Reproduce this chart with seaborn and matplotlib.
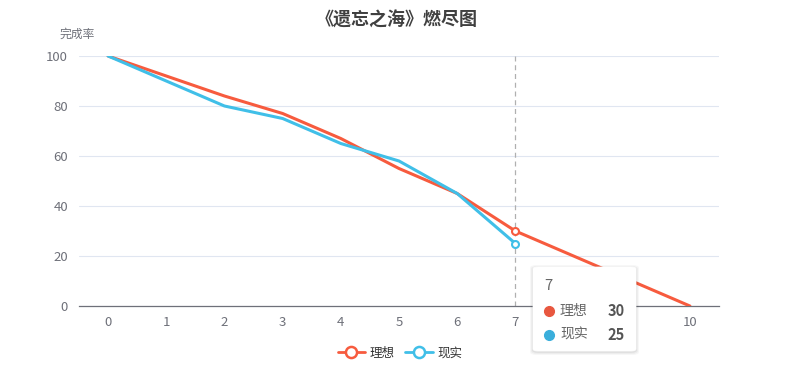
import matplotlib
matplotlib.use("Agg")
import matplotlib.pyplot as plt
import seaborn as sns
import pandas as pd
from matplotlib.lines import Line2D
from matplotlib.patches import FancyBboxPatch

days = list(range(11))
ideal = [100, 92, 84, 77, 67, 55, 45, 30, 20, 10, 0]
actual = [100, 90, 80, 75, 65, 58, 45, 25]
series_names = ["理想", "现实"]
title = "《遗忘之海》燃尽图"
y_name = "完成率"
y_ticks = [0, 20, 40, 60, 80, 100]
hover_day = 7

RED = "#f75b3e"
BLUE = "#40bfe8"

sns.set_theme(style="white")
plt.rcParams["font.family"] = ["Noto Sans CJK SC", "DejaVu Sans"]

W, H = 797, 367
fig = plt.figure(figsize=(W / 100, H / 100), dpi=100)
L, R, T, B = 79, 719, 56, 306
ax = fig.add_axes([L / W, 1 - B / H, (R - L) / W, (B - T) / H])

df = pd.concat([
    pd.DataFrame({"day": days, "value": ideal, "series": series_names[0]}),
    pd.DataFrame({"day": days[:len(actual)], "value": actual, "series": series_names[1]}),
])
sns.lineplot(data=df, x="day", y="value", hue="series", palette=[RED, BLUE],
             linewidth=2.2, ax=ax, legend=False, zorder=3)

# hover markers
ax.plot([hover_day], [ideal[hover_day]], "o", ms=5, mfc="white", mec=RED, mew=1.5, zorder=5)
ax.plot([hover_day], [actual[hover_day]], "o", ms=5, mfc="white", mec=BLUE, mew=1.5, zorder=5)
ax.axvline(hover_day, color="#b0b0b0", lw=0.9, ls=(0, (4, 3)), zorder=2)

ax.set_xlim(-0.5, 10.5)
ax.set_ylim(0, 100)
ax.set_yticks(y_ticks)
ax.set_xticks(days)
ax.set_xticks([d - 0.5 for d in days] + [10.5], minor=True)
ax.tick_params(axis="x", which="major", length=0, pad=7, labelsize=9.5, labelcolor="#6e7079")
ax.tick_params(axis="x", which="minor", length=5, width=0.8, color="#6e7079", direction="out")
ax.tick_params(axis="y", length=0, pad=8, labelsize=9.5, labelcolor="#6e7079")
ax.yaxis.grid(True, color="#e0e6f1", lw=0.8)
ax.xaxis.grid(False)
for s in ["top", "right", "left"]:
    ax.spines[s].set_visible(False)
ax.spines["bottom"].set_color("#6e7079")
ax.spines["bottom"].set_linewidth(0.9)
ax.set_xlabel("")
ax.set_ylabel("")

fig.text(397 / W, 1 - 20 / H, title, ha="center", va="center", fontsize=13,
         fontweight="bold", color="#404040")
fig.text(77 / W, 1 - 34 / H, y_name, ha="center", va="center", fontsize=8.5, color="#6e7079")

# legend
handles = [
    Line2D([0], [0], color=RED, lw=2, marker="o", ms=8, mfc="white", mec=RED, mew=1.8),
    Line2D([0], [0], color=BLUE, lw=2, marker="o", ms=8, mfc="white", mec=BLUE, mew=1.8),
]
fig.legend(handles, series_names, loc="center", bbox_to_anchor=(400 / W, 1 - 353 / H),
           ncol=2, frameon=False, fontsize=9, handlelength=2.2, columnspacing=0.8,
           handletextpad=0.4, labelcolor="#333333")

# tooltip
bx, by, bw, bh = 533, 267, 103, 84
for i, a in enumerate([0.05, 0.04, 0.03]):
    sh = FancyBboxPatch(((bx - 1 - i) / W, 1 - (by + bh + 2 + i) / H), (bw + 2 + 2 * i) / W,
                        (bh + 2 + 2 * i) / H, boxstyle="round,pad=0,rounding_size=0.008",
                        transform=fig.transFigure, fc="black", ec="none", alpha=a, zorder=8)
    fig.add_artist(sh)
box = FancyBboxPatch((bx / W, 1 - (by + bh) / H), bw / W, bh / H,
                     boxstyle="round,pad=0,rounding_size=0.006",
                     transform=fig.transFigure, fc="white", ec="white", lw=0.5, zorder=9)
fig.add_artist(box)
fig.text(544 / W, 1 - 286 / H, str(hover_day), ha="left", va="center", fontsize=10.5,
         color="#666666", zorder=10)
rows = [(series_names[0], ideal[hover_day], "#e8573f", 311),
        (series_names[1], actual[hover_day], "#3aaedb", 335)]
for name, val, col, yy in rows:
    fig.add_artist(Line2D([549 / W], [1 - yy / H], marker="o", ms=7, color=col,
                          transform=fig.transFigure, zorder=10))
    fig.text(560 / W, 1 - yy / H, name, ha="left", va="center", fontsize=10,
             color="#666666", zorder=10)
    fig.text(625 / W, 1 - yy / H, str(val), ha="right", va="center", fontsize=10.5,
             fontweight="bold", color="#555555", zorder=10)

fig.savefig("out.png", dpi=100)
